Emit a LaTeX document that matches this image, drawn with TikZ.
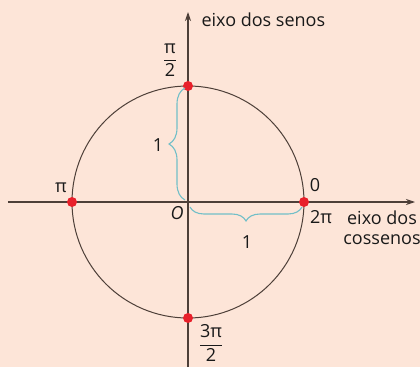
\documentclass[tikz,border=0pt]{standalone}
\usepackage{amsmath}
\usepackage{fontspec}
\setmainfont{Open Sans}
\usetikzlibrary{positioning, arrows.meta, decorations.pathreplacing}
\definecolor{bgPeach}{HTML}{FDE5D8}
\definecolor{lineBrown}{HTML}{4D3F38}
\definecolor{dotRed}{HTML}{E8202A}
\definecolor{braceTeal}{HTML}{72BFC8}
\tikzset{
  every node/.style={font=\fontsize{18}{20}\selectfont, text=black!90},
  axis/.style={-{Stealth[length=9pt, width=6pt]}, line width=1.1pt, draw=lineBrown},
  circ/.style={line width=1pt, draw=lineBrown},
  dot/.style={circle, fill=dotRed, inner sep=0pt, minimum size=10pt},
  brc/.style={decorate, decoration={brace, amplitude=#1}, draw=braceTeal, line width=1.1pt},
}

\begin{document}
\begin{tikzpicture}[x=1pt, y=1pt]
  \useasboundingbox[fill=bgPeach] (-188,-165) rectangle (232,202);
  \coordinate (O) at (0,0);
  \coordinate (xl) at (-180,0);
  \coordinate (xr) at (227,0);
  \coordinate (yb) at (0,-165);
  \coordinate (yt) at (0,190);
  \draw[circ] (O) circle (116);
  \draw[axis] (xl) -- (xr);
  \draw[axis] (yb) -- (yt);
  % points on the circle
  \node[dot] (p0) at (116,0) {};
  \node[dot] (p1) at (0,116) {};
  \node[dot] (p2) at (-116,0) {};
  \node[dot] (p3) at (0,-116) {};
  % braces
  \coordinate (hb1) at (114,-5);
  \coordinate (hb2) at (2,-5);
  \coordinate (vb1) at (-3,2);
  \coordinate (vb2) at (-3,114);
  \draw[brc=14] (hb1) -- (hb2);
  \draw[brc=16] (vb1) -- (vb2);
  % labels
  \node (lo) at (-11,-11) {\itshape O};
  \node (l0) at (127,17) {0};
  \node (l2pi) at (133,-15) {2π};
  \node (lpi) at (-127,14) {π};
  \node (lpi2) at (-18,142) {$\dfrac{\text{π}}{\text{2}}$};
  \node (l3pi2) at (23,-141) {$\dfrac{\text{3π}}{\text{2}}$};
  \node (one1) at (59,-40) {1};
  \node (one2) at (-30,57) {1};
  \node[anchor=west] (sen) at (10,182) {eixo dos senos};
  \node[align=center] (cos) at (194,-26) {eixo dos\\cossenos};
\end{tikzpicture}
\end{document}
